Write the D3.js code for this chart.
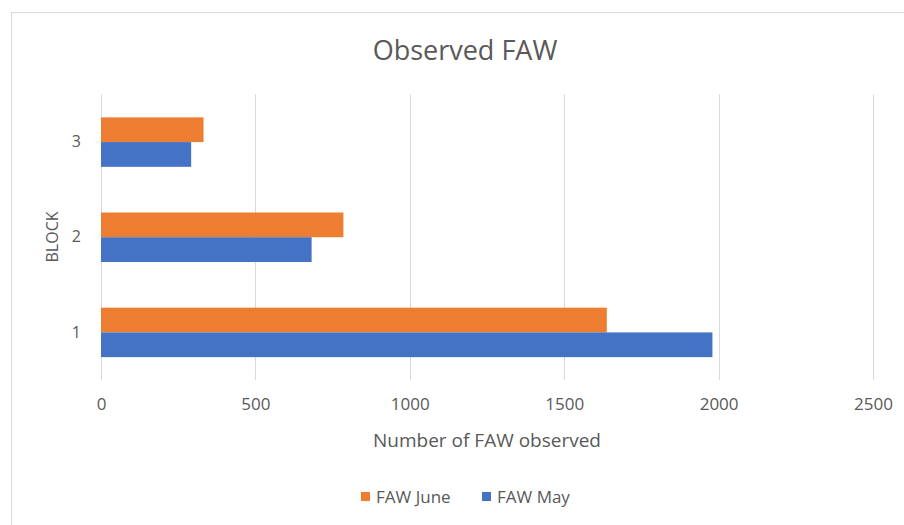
<!DOCTYPE html>
<html>
<head>
<meta charset="utf-8">
<script src="https://cdn.jsdelivr.net/npm/d3@7"></script>
<style>
  html, body { margin: 0; padding: 0; background: #fff; }
  svg { display: block; font-family: "Open Sans", "Noto Sans", sans-serif; }
</style>
</head>
<body>
<svg id="chart" width="904" height="525"></svg>
<script>
// Block categories and FAW counts per month
const blocks = ["1", "2", "3"];
const fawJune = [1638, 785, 332];
const fawMay = [1980, 682, 292];
const xTicks = [0, 500, 1000, 1500, 2000, 2500];
const seriesNames = ["FAW June", "FAW May"];
const seriesColors = ["#ED7D31", "#4472C4"];

const svg = d3.select("#chart");
const textColor = "#595959";
const gridColor = "#d9d9d9";

// Chart frame
svg.append("rect")
  .attr("x", 11.5).attr("y", 12.5)
  .attr("width", 904).attr("height", 525)
  .attr("fill", "#fff").attr("stroke", gridColor).attr("stroke-width", 1);

const plot = { left: 101, right: 873, top: 94.5, bottom: 380 };

const x = d3.scaleLinear().domain([0, 2500]).range([plot.left, plot.right]);
// Block 3 sits at the top, block 1 at the bottom
const y = d3.scaleBand().domain(blocks.slice().reverse())
  .range([plot.top, plot.bottom]).paddingInner(0.48).paddingOuter(0.24);
const ySub = d3.scaleBand().domain(seriesNames).range([0, y.bandwidth()]);

// Vertical gridlines
svg.append("g").selectAll("line").data(xTicks).join("line")
  .attr("x1", d => Math.round(x(d)) + 0.5).attr("x2", d => Math.round(x(d)) + 0.5)
  .attr("y1", plot.top).attr("y2", plot.bottom)
  .attr("stroke", gridColor).attr("stroke-width", 1);

// Bars
const rows = blocks.map((b, i) => ({ block: b, values: [fawJune[i], fawMay[i]] }));
const groups = svg.append("g").selectAll("g").data(rows).join("g")
  .attr("transform", d => `translate(0,${y(d.block)})`);
groups.selectAll("rect").data(d => d.values.map((v, j) => ({ name: seriesNames[j], v, c: seriesColors[j] })))
  .join("rect")
  .attr("x", x(0))
  .attr("y", d => ySub(d.name))
  .attr("width", d => x(d.v) - x(0))
  .attr("height", ySub.bandwidth())
  .attr("fill", d => d.c);

// X axis
const xAxis = svg.append("g").attr("transform", `translate(0,${plot.bottom})`)
  .call(d3.axisBottom(x).tickValues(xTicks).tickFormat(d3.format("d")).tickSize(0).tickPadding(18));
xAxis.select(".domain").remove();
xAxis.selectAll("text").attr("fill", textColor).attr("font-size", 17)
  .attr("font-family", "'Open Sans', sans-serif");

// Y axis
const yAxis = svg.append("g").attr("transform", `translate(${plot.left},0)`)
  .call(d3.axisLeft(y).tickSize(0).tickPadding(20));
yAxis.select(".domain").remove();
yAxis.selectAll("text").attr("fill", textColor).attr("font-size", 16)
  .attr("font-family", "'Open Sans', sans-serif");

// Title
svg.append("text").attr("x", 465).attr("y", 60)
  .attr("text-anchor", "middle").attr("fill", textColor)
  .attr("font-size", 27).text("Observed FAW");

// Axis titles
svg.append("text").attr("x", 487).attr("y", 447)
  .attr("text-anchor", "middle").attr("fill", textColor)
  .attr("font-size", 19).text("Number of FAW observed");

svg.append("text")
  .attr("transform", "translate(58,237) rotate(-90)")
  .attr("text-anchor", "middle").attr("fill", textColor)
  .attr("font-size", 16).text("BLOCK");

// Legend
const legend = svg.append("g").attr("transform", "translate(361,497)");
const items = legend.selectAll("g").data(seriesNames).join("g")
  .attr("transform", (d, i) => `translate(${i * 121},0)`);
items.append("rect").attr("x", 0).attr("y", -5).attr("width", 9).attr("height", 9)
  .attr("fill", (d, i) => seriesColors[i]);
items.append("text").attr("x", 15).attr("y", 0).attr("dy", "0.35em")
  .attr("fill", textColor).attr("font-size", 17).text(d => d);
</script>
</body>
</html>
